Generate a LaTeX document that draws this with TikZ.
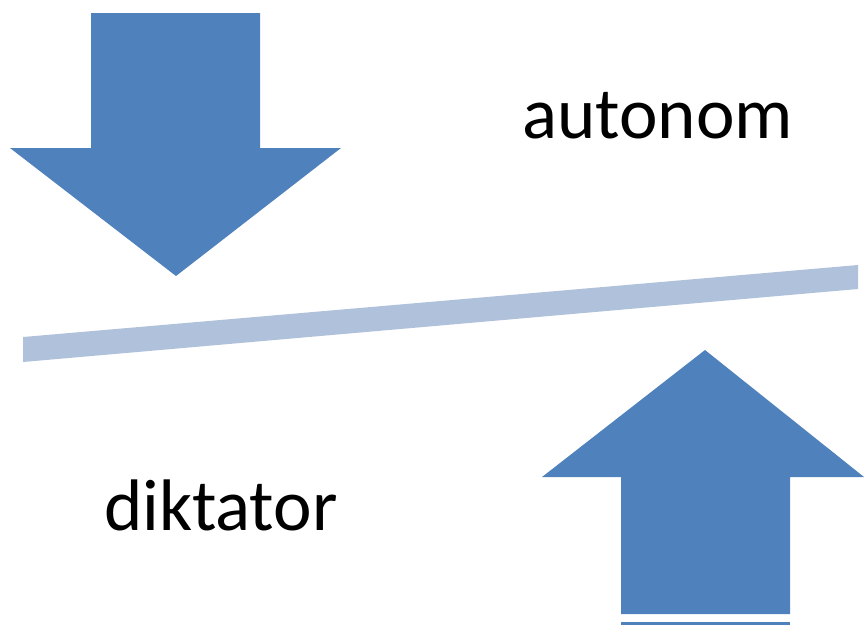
\documentclass[tikz,border=0pt]{standalone}
\usepackage{fontspec}
\setmainfont{Carlito}
\definecolor{arrowblue}{RGB}{79,129,189}
\definecolor{barblue}{RGB}{176,193,220}
\begin{document}
\begin{tikzpicture}[x=1pt,y=-1pt,
  blockarrow/.style={fill=arrowblue,draw=none},
  tiltbar/.style={fill=barblue,draw=none},
  label/.style={inner sep=0pt,anchor=base west,font=\fontsize{73}{80}\selectfont}]
\useasboundingbox (0,0) rectangle (864,625);
% downward block arrow
\fill[blockarrow] (91,13) -- (260,13) -- (260,148) -- (341,148) -- (176,276)
  -- (10,148) -- (91,148) -- cycle;
% upward block arrow
\fill[blockarrow] (705,350) -- (864,477) -- (790,477) -- (790,614) -- (621,614)
  -- (621,477) -- (542,477) -- cycle;
\fill[blockarrow] (621,622) rectangle (790,625);
% tilted bar
\fill[tiltbar] (23,337) -- (858,265) -- (858,289) -- (23,362) -- cycle;
% labels
\node[label] (auto) at (522,138) {autonom};
\node[label] (dikt) at (104,530) {diktator};
\end{tikzpicture}
\end{document}
